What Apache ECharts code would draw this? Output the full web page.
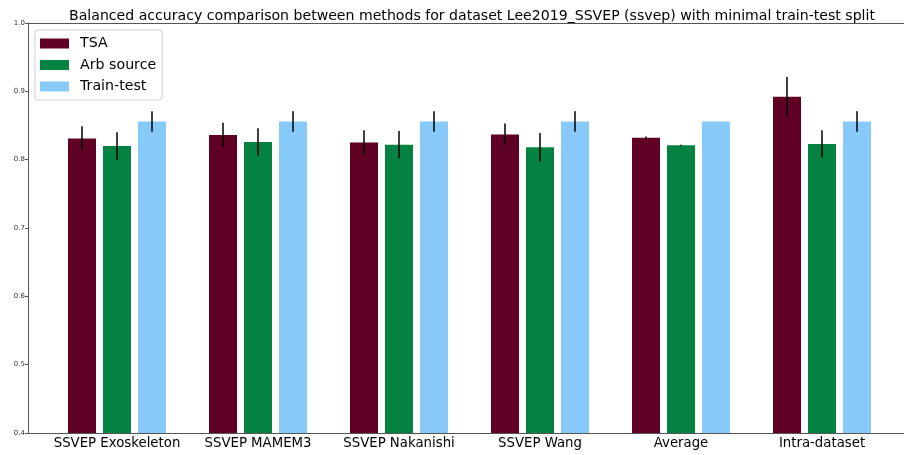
<!DOCTYPE html>
<html>
<head>
<meta charset="utf-8">
<script src="https://cdn.jsdelivr.net/npm/echarts@6/dist/echarts.min.js"></script>
<style>
html,body{margin:0;padding:0;background:#fff;}
#chart{width:904px;height:455px;}
</style>
</head>
<body>
<div id="chart"></div>
<script>
var categories = ['SSVEP Exoskeleton', 'SSVEP MAMEM3', 'SSVEP Nakanishi', 'SSVEP Wang', 'Average', 'Intra-dataset'];
var seriesNames = ['TSA', 'Arb source', 'Train-test'];
var tsaValues = [0.831, 0.836, 0.825, 0.837, 0.832, 0.892];
var tsaErrors = [0.018, 0.018, 0.018, 0.016, 0.002, 0.029];
var arbValues = [0.820, 0.826, 0.822, 0.818, 0.821, 0.823];
var arbErrors = [0.020, 0.020, 0.020, 0.021, 0.001, 0.020];
var ttValues = [0.856, 0.856, 0.856, 0.856, 0.856, 0.856];
var ttErrors = [0.015, 0.015, 0.015, 0.015, 0, 0.015];
var yTicks = [0.4, 0.5, 0.6, 0.7, 0.8, 0.9, 1.0];

var colors = ['#5f0024', '#038241', '#87cafa'];
var valuesList = [tsaValues, arbValues, ttValues];
var errorsList = [tsaErrors, arbErrors, ttErrors];
var FONT = 'DejaVu Sans';
var barPitch = 35;

var chart = echarts.init(document.getElementById('chart'), null, {renderer: 'canvas'});

var series = [];
seriesNames.forEach(function (name, s) {
  series.push({
    name: name,
    type: 'bar',
    xAxisIndex: 0,
    yAxisIndex: 0,
    data: valuesList[s],
    barWidth: 28,
    barGap: '25%',
    itemStyle: {color: colors[s]},
    silent: true,
    z: 2
  });
});
seriesNames.forEach(function (name, s) {
  var errData = categories.map(function (c, i) {
    return [i, valuesList[s][i], errorsList[s][i]];
  });
  series.push({
    type: 'custom',
    xAxisIndex: 0,
    yAxisIndex: 0,
    data: errData,
    z: 5,
    silent: true,
    renderItem: function (params, api) {
      var i = api.value(0), v = api.value(1), e = api.value(2);
      if (!e) return null;
      var top = api.coord([i, v + e]);
      var bot = api.coord([i, v - e]);
      var x = top[0] + (s - 1) * barPitch;
      return {
        type: 'line',
        shape: {x1: x, y1: top[1], x2: x, y2: bot[1]},
        style: {stroke: '#000', lineWidth: 1.5}
      };
    }
  });
});

var option = {
  backgroundColor: '#fff',
  animation: false,
  title: {
    text: 'Balanced accuracy comparison between methods for dataset Lee2019_SSVEP (ssvep) with minimal train-test split',
    left: 467,
    textAlign: 'center',
    top: 4,
    textStyle: {fontFamily: FONT, fontSize: 14.1, fontWeight: 'normal', color: '#000'}
  },
  legend: {
    data: seriesNames,
    orient: 'vertical',
    left: 35,
    top: 30,
    itemWidth: 29,
    itemHeight: 10,
    itemGap: 6.5,
    padding: [6, 6, 6, 5],
    borderColor: '#d0d0d0',
    borderWidth: 1,
    borderRadius: 3,
    backgroundColor: '#fff',
    icon: 'rect',
    textStyle: {fontFamily: FONT, fontSize: 14.2, lineHeight: 15, color: '#000', padding: [0, 0, 0, 6]}
  },
  grid: [
    {left: 46.5, right: 11.5, top: 23, bottom: 22, containLabel: false},
    {left: 28, right: 0, top: 23, bottom: 22, containLabel: false}
  ],
  xAxis: [
    {
      type: 'category', gridIndex: 0, data: categories,
      axisLine: {show: false}, axisTick: {show: false},
      axisLabel: {fontFamily: FONT, fontSize: 13.3, color: '#000', margin: 4, interval: 0}
    },
    {
      type: 'value', gridIndex: 1, position: 'bottom', min: 0, max: 1,
      axisLine: {show: true, lineStyle: {color: '#555', width: 1}},
      axisTick: {show: false}, axisLabel: {show: false}, splitLine: {show: false}
    },
    {
      type: 'value', gridIndex: 1, position: 'top', min: 0, max: 1,
      axisLine: {show: true, lineStyle: {color: '#555', width: 1}},
      axisTick: {show: false}, axisLabel: {show: false}, splitLine: {show: false}
    }
  ],
  yAxis: [
    {
      type: 'value', gridIndex: 0, min: yTicks[0], max: yTicks[yTicks.length - 1], interval: 0.1,
      offset: 18.5,
      axisLine: {show: true, lineStyle: {color: '#555', width: 1}},
      axisTick: {show: true, length: 3, lineStyle: {color: '#555'}},
      axisLabel: {fontFamily: FONT, fontSize: 7, color: '#333', margin: 3,
        formatter: function (v) { return v.toFixed(1); }},
      splitLine: {show: false}
    },
    {
      type: 'value', gridIndex: 1, min: 0, max: 1, show: false
    }
  ],
  series: series
};
chart.setOption(option);
</script>
</body>
</html>
